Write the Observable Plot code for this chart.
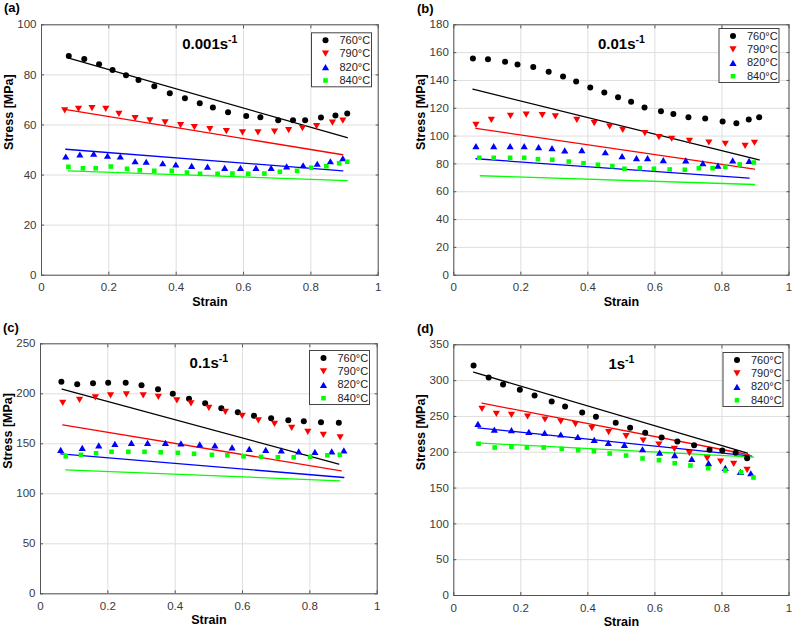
<!DOCTYPE html>
<html><head><meta charset="utf-8">
<script src="https://cdn.jsdelivr.net/npm/d3@7"></script>
<script src="https://cdn.jsdelivr.net/npm/@observablehq/plot@0.6"></script>
<style>
body{margin:0;background:#fff;font-family:"Liberation Sans",Arial,sans-serif;}
#wrap{position:relative;width:793px;height:628px;overflow:hidden;background:#fff;}
.panel{position:absolute;}
.tag{position:absolute;font-weight:bold;font-size:13px;line-height:16px;color:#000;}
</style></head><body><div id="wrap"></div>
<script>
// ---------- labels ----------
const temps = ["760°C", "790°C", "820°C", "840°C"];
const colors = ["#000000", "#ff0000", "#0000ff", "#00ff00"];
const rates = ["0.001s", "0.01s", "0.1s", "1s"];
const rateExponent = "-1";
const panelTags = ["(a)", "(b)", "(c)", "(d)"];
const xTicks = [0, 0.2, 0.4, 0.6, 0.8, 1];
const yTicksA = [0, 20, 40, 60, 80, 100];
const yTicksB = [0, 20, 40, 60, 80, 100, 120, 140, 160, 180];
const yTicksC = [0, 50, 100, 150, 200, 250];
const yTicksD = [0, 50, 100, 150, 200, 250, 300, 350];

// ---------- panel (a) 0.001 s-1 ----------
const a760 = [[0.081,87.5],[0.127,86.3],[0.171,84.2],[0.211,81.9],[0.251,79.9],[0.288,78.0],[0.335,75.5],[0.381,72.7],[0.426,70.7],[0.470,68.7],[0.509,67.0],[0.554,65.1],[0.608,63.6],[0.650,63.1],[0.703,61.9],[0.747,61.9],[0.783,61.9],[0.830,63.0],[0.873,63.8],[0.908,64.6]];
const a790 = [[0.069,65.8],[0.110,66.4],[0.150,66.7],[0.191,66.4],[0.230,64.4],[0.278,62.7],[0.322,61.8],[0.367,61.0],[0.413,59.9],[0.454,59.1],[0.500,58.3],[0.549,57.5],[0.597,57.0],[0.643,57.0],[0.692,57.3],[0.734,57.9],[0.775,58.7],[0.817,59.5],[0.864,60.9],[0.895,61.7]];
const a820 = [[0.072,47.4],[0.114,48.2],[0.155,48.5],[0.196,47.7],[0.234,47.4],[0.278,45.5],[0.311,45.3],[0.360,44.7],[0.399,44.2],[0.446,43.7],[0.493,43.4],[0.544,42.9],[0.591,42.9],[0.637,42.9],[0.682,42.9],[0.728,43.5],[0.777,43.9],[0.819,44.5],[0.858,45.5],[0.895,46.7]];
const a840 = [[0.080,43.3],[0.123,42.7],[0.161,42.7],[0.206,43.4],[0.254,42.5],[0.292,41.9],[0.335,41.7],[0.387,41.7],[0.432,41.0],[0.471,40.5],[0.523,40.5],[0.567,40.6],[0.614,40.5],[0.662,40.6],[0.708,41.3],[0.759,41.7],[0.801,42.9],[0.846,43.5],[0.884,44.7],[0.908,45.3]];
const aFit760 = [[0.081,86.7],[0.908,54.9]];
const aFit790 = [[0.069,66.2],[0.895,48.1]];
const aFit820 = [[0.072,50.3],[0.895,41.7]];
const aFit840 = [[0.080,41.7],[0.908,37.8]];

// ---------- panel (b) 0.01 s-1 ----------
const b760 = [[0.057,155.8],[0.102,155.3],[0.153,153.5],[0.190,151.5],[0.237,149.6],[0.283,146.2],[0.326,142.9],[0.365,139.3],[0.407,134.9],[0.449,131.4],[0.490,128.0],[0.529,124.6],[0.569,120.6],[0.618,117.9],[0.655,115.8],[0.700,113.6],[0.750,112.7],[0.802,110.5],[0.843,109.3],[0.880,111.9],[0.911,113.6]];
const b790 = [[0.066,108.1],[0.112,111.7],[0.169,114.6],[0.216,115.5],[0.264,115.0],[0.303,114.1],[0.367,111.7],[0.419,109.3],[0.465,106.9],[0.504,104.5],[0.570,102.1],[0.612,99.2],[0.650,98.1],[0.703,96.6],[0.761,95.4],[0.810,94.5],[0.869,93.0],[0.897,95.2]];
const b820 = [[0.066,92.8],[0.119,92.8],[0.168,92.8],[0.210,92.8],[0.253,92.0],[0.293,91.3],[0.331,89.7],[0.382,89.9],[0.452,88.4],[0.502,85.6],[0.545,84.1],[0.578,84.1],[0.625,82.7],[0.692,82.5],[0.743,80.5],[0.788,78.7],[0.832,82.5],[0.881,82.2]];
const b840 = [[0.076,84.4],[0.119,84.4],[0.168,84.4],[0.210,84.4],[0.251,83.4],[0.294,83.0],[0.343,81.7],[0.387,80.5],[0.430,79.4],[0.473,78.4],[0.509,76.5],[0.555,76.9],[0.597,76.5],[0.644,76.0],[0.689,75.8],[0.731,76.9],[0.772,76.9],[0.810,77.9],[0.853,79.6],[0.895,81.0]];
const bFit760 = [[0.057,133.7],[0.911,82.9]];
const bFit790 = [[0.066,105.5],[0.897,76.2]];
const bFit820 = [[0.066,83.7],[0.881,69.8]];
const bFit840 = [[0.079,71.5],[0.897,65.2]];

// ---------- panel (c) 0.1 s-1 ----------
const c760 = [[0.062,212],[0.109,209.5],[0.156,210.5],[0.201,211],[0.253,211],[0.300,208.5],[0.349,204.5],[0.393,200],[0.441,195],[0.489,190.5],[0.537,185.5],[0.586,181.5],[0.634,178],[0.685,175.5],[0.736,173.5],[0.782,172.5],[0.833,171.5],[0.886,171]];
const c790 = [[0.066,191],[0.116,194],[0.163,196.5],[0.208,198.5],[0.255,199.5],[0.305,198.5],[0.350,197],[0.405,193.5],[0.447,190.5],[0.500,186],[0.549,182],[0.599,178],[0.647,173.5],[0.695,170],[0.746,166],[0.794,162],[0.840,159],[0.890,156.5]];
const c820 = [[0.060,144],[0.124,146],[0.173,148.5],[0.221,150],[0.270,151],[0.318,151],[0.371,151],[0.417,150.5],[0.473,149.5],[0.518,148.5],[0.569,146.5],[0.620,145],[0.669,144],[0.715,143.5],[0.767,142.5],[0.815,142],[0.865,142.5],[0.901,143.5]];
const c840 = [[0.075,137.5],[0.120,139],[0.165,140.5],[0.211,142],[0.261,142],[0.309,142],[0.357,141.5],[0.408,141],[0.456,140],[0.509,139],[0.555,138.5],[0.603,137.5],[0.655,137],[0.705,136.5],[0.752,136.5],[0.801,137],[0.852,138.5],[0.889,139]];
const cFit760 = [[0.064,204.7],[0.886,129.7]];
const cFit790 = [[0.066,169],[0.893,123]];
const cFit820 = [[0.060,140],[0.901,116.3]];
const cFit840 = [[0.075,124],[0.889,113]];

// ---------- panel (d) 1 s-1 ----------
const d760 = [[0.059,321.1],[0.104,304.3],[0.147,294.6],[0.197,287.1],[0.241,279.2],[0.292,270.8],[0.332,263.8],[0.383,255.5],[0.424,249.5],[0.483,241.1],[0.526,234.1],[0.571,227.1],[0.620,220.6],[0.667,215],[0.717,209.8],[0.763,203.4],[0.801,202.4],[0.841,199.2],[0.875,191.7]];
const d790 = [[0.084,260.6],[0.127,253.6],[0.172,252.2],[0.220,249.9],[0.272,245.7],[0.319,242.9],[0.363,239.2],[0.412,233.6],[0.462,228],[0.514,222.4],[0.565,216.4],[0.612,210.8],[0.658,204.8],[0.703,198.7],[0.756,191.3],[0.796,187.1],[0.835,183.9],[0.875,175.5]];
const d820 = [[0.072,239.7],[0.121,231.7],[0.172,230.8],[0.224,228.5],[0.271,227.1],[0.319,224.8],[0.370,221.5],[0.419,217.3],[0.461,213.2],[0.509,210.4],[0.563,204.2],[0.614,199.6],[0.659,195.9],[0.710,190.8],[0.760,184.7],[0.810,178.3],[0.855,172.7],[0.886,170.7]];
const d840 = [[0.074,211.8],[0.122,206.6],[0.172,207.6],[0.218,206.6],[0.268,206.6],[0.322,204.8],[0.371,202.8],[0.418,201.4],[0.465,198.2],[0.514,195.4],[0.563,191.3],[0.612,188.9],[0.659,184.7],[0.706,181.5],[0.759,177.7],[0.810,174.5],[0.857,172.1],[0.894,164.7]];
const dFit760 = [[0.059,311.7],[0.876,198.7]];
const dFit790 = [[0.084,268.5],[0.881,196.5]];
const dFit820 = [[0.072,234.1],[0.889,194.5]];
const dFit840 = [[0.067,213.2],[0.894,193.1]];

// ---------- symbols ----------
function poly(pts) {
  return {draw(ctx, size) {
    const k = Math.sqrt(size / Math.PI) / 3;
    ctx.moveTo(pts[0][0] * k, pts[0][1] * k);
    for (let i = 1; i < pts.length; i++) ctx.lineTo(pts[i][0] * k, pts[i][1] * k);
    ctx.closePath();
  }};
}
const symbols = [
  "circle",
  poly([[0, 3.1], [3.6, -3.1], [-3.6, -3.1]]),
  poly([[0, -3.1], [3.6, 3.1], [-3.6, 3.1]]),
  poly([[-2.3, -2.3], [2.3, -2.3], [2.3, 2.3], [-2.3, 2.3]])
];

const panels = [
  {pts: [a760, a790, a820, a840], fits: [aFit760, aFit790, aFit820, aFit840], yMax: 100, yTicks: yTicksA,
   left: 0, top: 0, width: 396, height: 310, mL: 41, mR: 18.3, mT: 24.3, mB: 35.3, legR: 6.7, legT: 8, tagX: 4, tagY: 0},
  {pts: [b760, b790, b820, b840], fits: [bFit760, bFit790, bFit820, bFit840], yMax: 180, yTicks: yTicksB,
   left: 396, top: 0, width: 397, height: 310, mL: 57.3, mR: 4.5, mT: 24.3, mB: 35.3, legR: 10, legT: 3.7, tagX: 417, tagY: 1},
  {pts: [c760, c790, c820, c840], fits: [cFit760, cFit790, cFit820, cFit840], yMax: 250, yTicks: yTicksC,
   left: 0, top: 310, width: 396, height: 318, mL: 40, mR: 19.3, mT: 33.3, mB: 34.7, legR: 7.7, legT: 6.7, tagX: 3, tagY: 320},
  {pts: [d760, d790, d820, d840], fits: [dFit760, dFit790, dFit820, dFit840], yMax: 350, yTicks: yTicksD,
   left: 396, top: 310, width: 397, height: 318, mL: 57.3, mR: 4.5, mT: 34.3, mB: 33, legR: 6, legT: 7.7, tagX: 417, tagY: 321}
];

const wrap = document.getElementById("wrap");
const fmtX = d3.format("~g");
const legW = 60, legH = 54;

panels.forEach((p, pi) => {
  const W = p.width - p.mL - p.mR, H = p.height - p.mT - p.mB;
  const marks = [
    Plot.gridX(xTicks, {stroke: "#dedede", strokeOpacity: 1}),
    Plot.gridY(p.yTicks, {stroke: "#dedede", strokeOpacity: 1}),
    Plot.axisX({ticks: xTicks, anchor: "bottom", tickSize: 0, tickPadding: 8, tickFormat: fmtX, label: null, fontSize: 11.5}),
    Plot.axisY({ticks: p.yTicks, anchor: "left", tickSize: 0, tickPadding: 5, label: null, fontSize: 11.5}),
    Plot.axisX({ticks: xTicks, anchor: "bottom", tickSize: -3, tickFormat: () => "", label: null, stroke: "#555"}),
    Plot.axisX({ticks: xTicks, anchor: "top", tickSize: -3, tickFormat: () => "", label: null, stroke: "#555"}),
    Plot.axisY({ticks: p.yTicks, anchor: "left", tickSize: -3, tickFormat: () => "", label: null, stroke: "#555"}),
    Plot.axisY({ticks: p.yTicks, anchor: "right", tickSize: -3, tickFormat: () => "", label: null, stroke: "#555"}),
    Plot.frame({stroke: "#555"}),
    Plot.text(["Strain"], {frameAnchor: "bottom", lineAnchor: "middle", dy: 26.5, fontWeight: "bold", fontSize: 12.5, fill: "#000"}),
    Plot.text(["Stress [MPa]"], {frameAnchor: "left", lineAnchor: "middle", dx: -33, rotate: -90, fontWeight: "bold", fontSize: 12.5, fill: "#000"}),
    Plot.text([rates[pi]], {frameAnchor: "top", lineAnchor: "middle", dy: 19, fontWeight: "bold", fontSize: 15, fill: "#000"})
  ];
  p.fits.forEach((f, i) => {
    marks.push(Plot.line(f, {x: d => d[0], y: d => d[1], stroke: colors[i], strokeWidth: 1.3}));
  });
  p.pts.forEach((s, i) => {
    marks.push(Plot.dot(s, {x: d => d[0], y: d => d[1], symbol: symbols[i], fill: colors[i], stroke: "none", r: 3}));
  });
  // legend box
  marks.push(Plot.frame({insetLeft: W - p.legR - legW, insetRight: p.legR, insetTop: p.legT, insetBottom: H - p.legT - legH, stroke: "#444", fill: "white"}));
  temps.forEach((t, i) => {
    const dy = p.legT + 7.5 + i * 13.4;
    marks.push(Plot.dot([t], {frameAnchor: "top-right", dx: -(p.legR + legW - 14), dy, symbol: symbols[i], fill: colors[i], stroke: "none", r: 3}));
    marks.push(Plot.text([t], {frameAnchor: "top-right", lineAnchor: "middle", dx: -(p.legR + legW - 28), dy, textAnchor: "start", fontSize: 11, fill: "#222"}));
  });

  const svg = Plot.plot({
    width: p.width, height: p.height,
    marginLeft: p.mL, marginRight: p.mR, marginTop: p.mT, marginBottom: p.mB,
    x: {domain: [0, 1], label: null},
    y: {domain: [0, p.yMax], label: null},
    style: {fontFamily: '"Liberation Sans", Arial, sans-serif', fontSize: "11.5px", color: "#3a3a3a", background: "white", overflow: "visible"},
    marks
  });
  // superscript -1 on the strain-rate title
  d3.select(svg).selectAll("text").filter(function() { return this.textContent === rates[pi]; }).each(function() {
    const sel = d3.select(this);
    sel.text(null);
    sel.append("tspan").text(rates[pi]);
    sel.append("tspan").attr("dy", "-6").attr("font-size", "10.5").text(rateExponent);
  });
  const div = document.createElement("div");
  div.className = "panel";
  div.style.left = p.left + "px";
  div.style.top = p.top + "px";
  div.appendChild(svg);
  wrap.appendChild(div);

  const tag = document.createElement("div");
  tag.className = "tag";
  tag.style.left = p.tagX + "px";
  tag.style.top = p.tagY + "px";
  tag.textContent = panelTags[pi];
  wrap.appendChild(tag);
});
</script>
</body></html>
